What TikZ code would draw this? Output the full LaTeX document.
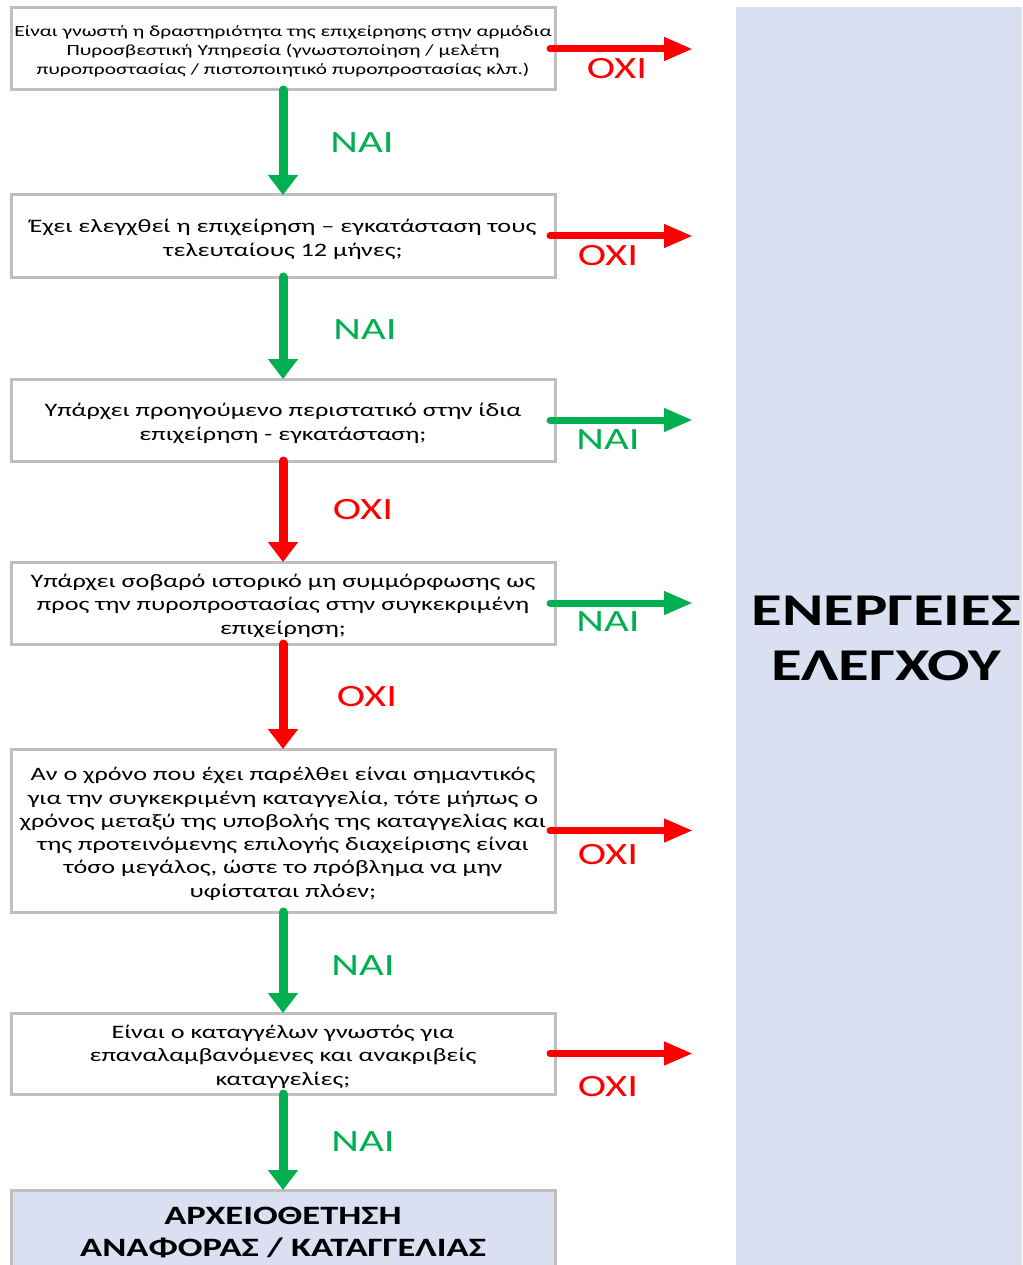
\documentclass[tikz,border=0pt]{standalone}
\usepackage{fontspec}
\setmainfont{Carlito}[FakeStretch=1.38]
\usetikzlibrary{arrows.meta}
\definecolor{okgreen}{HTML}{00B050}
\definecolor{nored}{HTML}{FF0000}
\definecolor{panelblue}{HTML}{DAE0F2}
\definecolor{boxgray}{HTML}{BFBFBF}
\newcommand{\tallst}[1]{\rule{0pt}{#1}}
\tikzset{
  qbox/.style={draw=boxgray, line width=3pt, fill=white, minimum width=544pt,
    inner sep=0pt, outer sep=0pt, align=center, text=black,
    font=\fontsize{19}{23.3}\selectfont},
  vyes/.style={draw=okgreen, line width=9pt, line cap=round, -{Triangle[length=20pt,width=29pt]}},
  vno/.style={draw=nored, line width=9pt, line cap=round, -{Triangle[length=20pt,width=29pt]}},
  hyes/.style={draw=okgreen, line width=7pt, line cap=round, -{Triangle[length=29pt,width=22pt]}},
  hno/.style={draw=nored, line width=7pt, line cap=round, -{Triangle[length=29pt,width=22pt]}},
  yeslab/.style={text=okgreen, font=\fontsize{31}{36}\selectfont, inner sep=0pt},
  nolab/.style={text=nored, font=\fontsize{31}{36}\selectfont, inner sep=0pt},
}
\begin{document}
\begin{tikzpicture}[x=1pt, y=-1pt]
\useasboundingbox (0,0) rectangle (1022,1265);
% right panel
\node[fill=panelblue, minimum width=286pt, minimum height=1270pt, anchor=north west, inner sep=0pt, outer sep=0pt] (panel) at (736,7) {};
\node[font=\bfseries\fontsize{45.5}{55}\selectfont, align=center, text=black, inner sep=0pt] (acts) at (886,638) {ΕΝΕΡΓΕΙΕΣ\\ΕΛΕΓΧΟΥ};

% question boxes
\node[qbox, minimum height=82pt, font=\fontsize{15.5}{19}\selectfont] (b1) at (283,49) {\tallst{15pt}Είναι γνωστή η δραστηριότητα της επιχείρησης στην αρμόδια\\Πυροσβεστική Υπηρεσία (γνωστοποίηση / μελέτη\\πυροπροστασίας / πιστοποιητικό πυροπροστασίας κλπ.)};
\node[qbox, minimum height=82pt] (b2) at (283,236) {\tallst{20pt}Έχει ελεγχθεί η επιχείρηση – εγκατάσταση τους\\τελευταίους 12 μήνες;};
\node[qbox, minimum height=82pt] (b3) at (283,420) {\tallst{20pt}Υπάρχει προηγούμενο περιστατικό στην ίδια\\επιχείρηση - εγκατάσταση;};
\node[qbox, minimum height=82pt] (b4) at (283,603) {\tallst{19pt}Υπάρχει σοβαρό ιστορικό μη συμμόρφωσης ως\\προς την πυροπροστασίας στην συγκεκριμένη\\επιχείρηση;};
\node[qbox, minimum height=163pt] (b5) at (283,830.5) {\tallst{20pt}Αν ο χρόνο που έχει παρέλθει είναι σημαντικός\\για την συγκεκριμένη καταγγελία, τότε μήπως ο\\χρόνος μεταξύ της υποβολής της καταγγελίας και\\της προτεινόμενης επιλογής διαχείρισης είναι\\τόσο μεγάλος, ώστε το πρόβλημα να μην\\υφίσταται πλόεν;};
\node[qbox, minimum height=81pt] (b6) at (283,1053.5) {\tallst{20pt}Είναι ο καταγγέλων γνωστός για\\επαναλαμβανόμενες και ανακριβείς\\καταγγελίες;};
\node[qbox, fill=panelblue, minimum height=84pt, font=\bfseries\fontsize{26.5}{32}\selectfont] (b7) at (283,1232) {ΑΡΧΕΙΟΘΕΤΗΣΗ\\ΑΝΑΦΟΡΑΣ / ΚΑΤΑΓΓΕΛΙΑΣ};

% vertical connectors
\draw[vyes] (b1.south) -- (b2.north);
\draw[vyes] (b2.south) -- (b3.north);
\draw[vno]  (b3.south) -- (b4.north);
\draw[vno]  (b4.south) -- (b5.north);
\draw[vyes] (b5.south) -- (b6.north);
\draw[vyes] (b6.south) -- (b7.north);
\node[yeslab] (v1) at (362,143) {ΝΑΙ};
\node[yeslab] (v2) at (365,330) {ΝΑΙ};
\node[nolab]  (v3) at (363,510) {ΟΧΙ};
\node[nolab]  (v4) at (367,697) {ΟΧΙ};
\node[yeslab] (v5) at (363,966) {ΝΑΙ};
\node[yeslab] (v6) at (363,1142) {ΝΑΙ};

% horizontal connectors
\coordinate (e1) at (693,49);
\coordinate (e2) at (693,236);
\coordinate (e3) at (693,420);
\coordinate (e4) at (693,603);
\coordinate (e5) at (693,830.5);
\coordinate (e6) at (693,1053.5);
\draw[hno]  ([xshift=-5pt]b1.east) -- (e1);
\draw[hno]  ([xshift=-5pt]b2.east) -- (e2);
\draw[hyes] ([xshift=-5pt]b3.east) -- (e3);
\draw[hyes] ([xshift=-5pt]b4.east) -- (e4);
\draw[hno]  ([xshift=-5pt]b5.east) -- (e5);
\draw[hno]  ([xshift=-5pt]b6.east) -- (e6);
\node[nolab]  (h1) at (617,69) {ΟΧΙ};
\node[nolab]  (h2) at (608,256) {ΟΧΙ};
\node[yeslab] (h3) at (608,440) {ΝΑΙ};
\node[yeslab] (h4) at (608,622) {ΝΑΙ};
\node[nolab]  (h5) at (608,855) {ΟΧΙ};
\node[nolab]  (h6) at (608,1087) {ΟΧΙ};
\end{tikzpicture}
\end{document}
